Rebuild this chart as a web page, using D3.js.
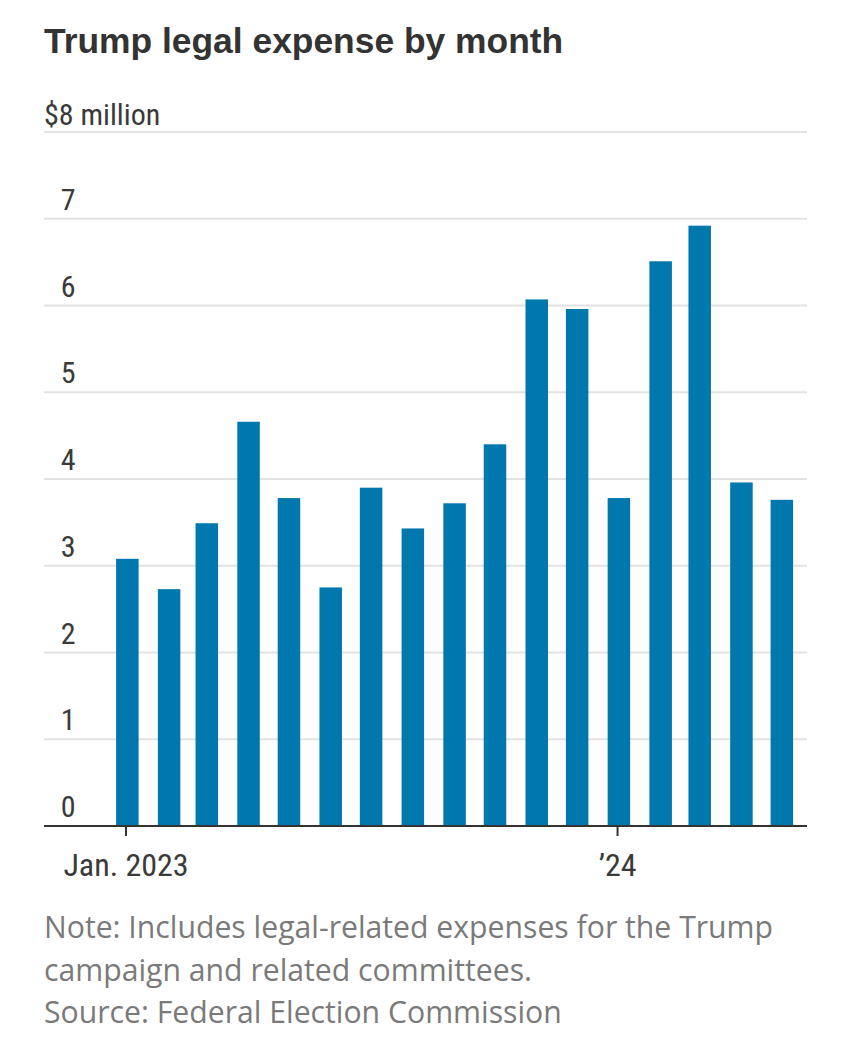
<!DOCTYPE html>
<html>
<head>
<meta charset="utf-8">
<script src="https://cdn.jsdelivr.net/npm/d3@7"></script>
<style>
  html, body { margin: 0; padding: 0; background: #fff; }
  svg { display: block; }
</style>
</head>
<body>
<svg id="chart" width="850" height="1050"></svg>
<script>
// ---- data ----
const months = ["2023-01","2023-02","2023-03","2023-04","2023-05","2023-06","2023-07","2023-08","2023-09","2023-10","2023-11","2023-12","2024-01","2024-02","2024-03","2024-04","2024-05"];
const expenseMillions = [3.08, 2.73, 3.49, 4.66, 3.78, 2.75, 3.90, 3.43, 3.72, 4.40, 6.07, 5.96, 3.78, 6.51, 6.92, 3.96, 3.76];
const yTicks = [0, 1, 2, 3, 4, 5, 6, 7, 8];
const xTickDates = ["2023-01", "2024-01"];
const xTickLabels = ["Jan. 2023", "\u201924"];
const titleText = "Trump legal expense by month";
const unitLabel = "$8 million";
const noteLines = [
  "Note: Includes legal-related expenses for the Trump",
  "campaign and related committees.",
  "Source: Federal Election Commission"
];

const parse = d3.timeParse("%Y-%m");
const data = months.map((m, i) => ({ date: parse(m), value: expenseMillions[i] }));

const svg = d3.select("#chart");
const narrow = "'Liberation Sans Narrow', 'Roboto Condensed', 'DejaVu Sans Condensed', sans-serif";

const plotLeft = 44, plotRight = 807;
const x = d3.scaleTime()
  .domain([parse("2023-01"), parse("2024-05")])
  .range([126, 780.5]);
const y = d3.scaleLinear().domain([0, 8]).range([826, 132]);
const barW = 22.5;

// title
svg.append("text")
  .attr("x", 44).attr("y", 53)
  .attr("font-family", "'Liberation Sans', Arial, sans-serif")
  .attr("font-weight", 700)
  .attr("font-size", 35.4)
  .attr("fill", "#333")
  .text(titleText);

// gridlines
svg.append("g").selectAll("line")
  .data(yTicks.filter(t => t > 0))
  .join("line")
  .attr("x1", plotLeft).attr("x2", plotRight)
  .attr("y1", d => y(d)).attr("y2", d => y(d))
  .attr("stroke", "#e2e2e2").attr("stroke-width", 2);

// y labels
svg.append("g").selectAll("text")
  .data(yTicks)
  .join("text")
  .attr("x", d => d === 8 ? 44 : 75.5)
  .attr("y", d => y(d) - (d === 8 ? 7 : 9))
  .attr("text-anchor", d => d === 8 ? "start" : "end")
  .attr("font-family", narrow)
  .attr("font-size", 30)
  .attr("fill", "#3a3a3a")
  .text(d => d === 8 ? unitLabel : d);

// bars
const dayMs = 864e5;
svg.append("g").selectAll("rect")
  .data(data)
  .join("rect")
  .attr("x", d => x(new Date(+d.date + dayMs)) - barW / 2)
  .attr("width", barW)
  .attr("y", d => y(d.value))
  .attr("height", d => y(0) - y(d.value))
  .attr("fill", "#0077ad");

// x axis baseline
svg.append("line")
  .attr("x1", plotLeft).attr("x2", plotRight)
  .attr("y1", y(0)).attr("y2", y(0))
  .attr("stroke", "#333").attr("stroke-width", 2);

// x ticks
const xt = svg.append("g").selectAll("g")
  .data(xTickDates.map((d, i) => ({ date: parse(d), label: xTickLabels[i] })))
  .join("g")
  .attr("transform", d => `translate(${x(d.date)},0)`);
xt.append("line")
  .attr("y1", y(0)).attr("y2", y(0) + 10)
  .attr("stroke", "#333").attr("stroke-width", 2);
xt.append("text")
  .attr("y", 876)
  .attr("text-anchor", "middle")
  .attr("font-family", narrow)
  .attr("font-size", 32)
  .attr("fill", "#3a3a3a")
  .text(d => d.label);

// notes
svg.append("g").selectAll("text")
  .data(noteLines)
  .join("text")
  .attr("x", 44)
  .attr("y", (d, i) => 938 + i * 42.7)
  .attr("font-family", "'Open Sans', 'Noto Sans', sans-serif")
  .attr("font-size", 30.2)
  .attr("fill", "#7a7a7a")
  .text(d => d);
</script>
</body>
</html>
